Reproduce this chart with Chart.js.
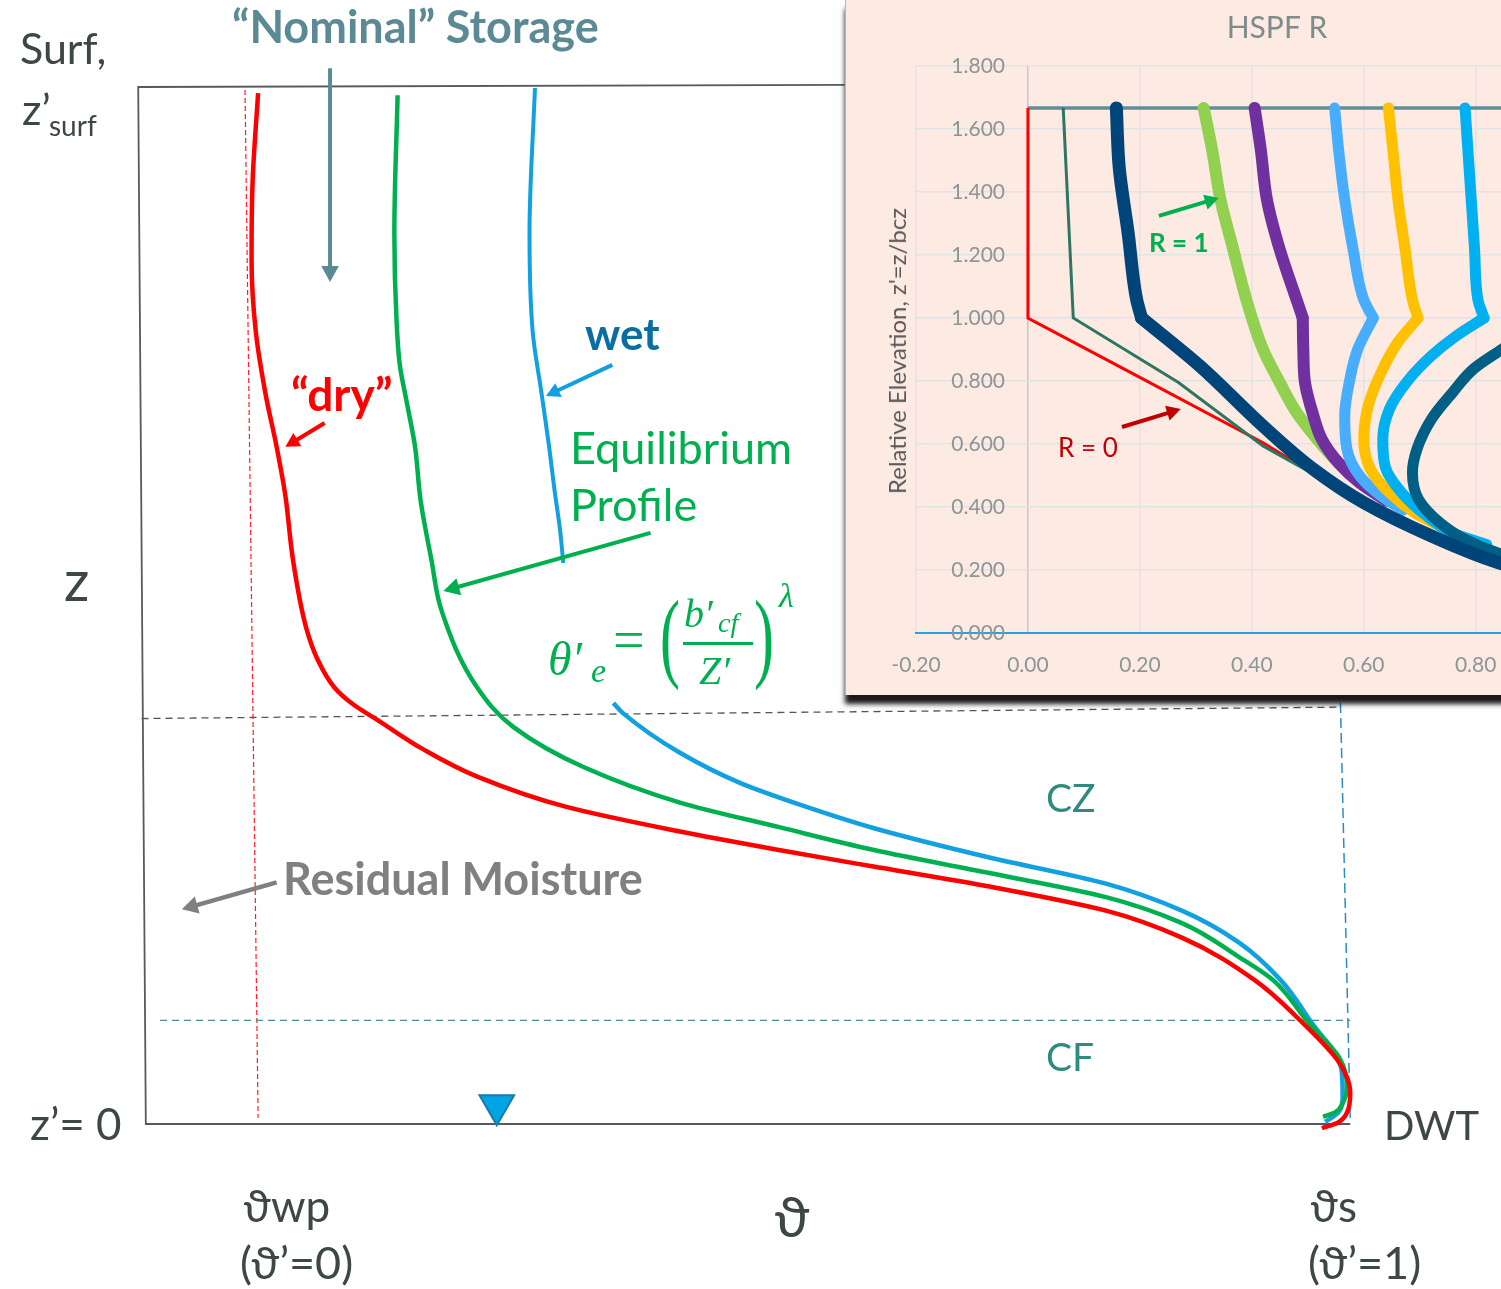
<!DOCTYPE html>
<html>
<head>
<meta charset="utf-8">
<script src="https://cdn.jsdelivr.net/npm/chart.js@4.4.1/dist/chart.umd.min.js"></script>
<style>
html, body { margin: 0; padding: 0; background: #fff; overflow: hidden; width: 1501px; height: 1289px; }
#main { position: absolute; left: 0; top: 0; }
#inset { position: absolute; left: 845px; top: 0; width: 814px; height: 695px; background: #fdeae2;
         box-shadow: 0 9px 5px rgba(0,0,0,0.9); border-left: 1px solid #b5b5b5; z-index: 2; }
#insetChart { position: absolute; left: 0; top: 0; }
.t { position: absolute; white-space: nowrap; line-height: 1; }
</style>
</head>
<body>
<canvas id="main" width="1501" height="1289"></canvas>
<div id="inset"><canvas id="insetChart" width="814" height="695"></canvas></div>
<script>
// ---- main diagram: theta' (0 = wilting point, 1 = saturation) vs relative elevation z' (0 = DWT, 1 = surface)
const dryProfile = [[0.001,0.994],[-0.004,0.910],[-0.005,0.833],[-0.001,0.763],[0.008,0.703],[0.018,0.653],
  [0.026,0.606],[0.033,0.544],[0.045,0.479],[0.056,0.447],[0.071,0.421],[0.089,0.404],[0.110,0.390],[0.153,0.361],
  [0.202,0.335],[0.283,0.306],[0.388,0.282],[0.480,0.264],[0.567,0.248],[0.672,0.229],[0.778,0.206],[0.848,0.180],
  [0.915,0.139],[0.957,0.100],[0.991,0.062],[1.000,0.045],[1.003,0.030],[1.000,0.011],[0.991,0.001],[0.977,-0.004]]
const equilibriumProfile = [[0.129,0.992],[0.126,0.859],[0.128,0.775],[0.131,0.732],[0.137,0.698],[0.145,0.653],
  [0.150,0.602],[0.160,0.544],[0.169,0.496],[0.202,0.421],[0.235,0.383],[0.300,0.344],[0.388,0.310],[0.480,0.286],
  [0.567,0.264],[0.672,0.242],[0.778,0.219],[0.848,0.194],[0.901,0.161],[0.932,0.139],[0.963,0.100],
  [0.994,0.062],[1.000,0.036],[0.996,0.020],[0.989,0.011],[0.978,0.007]]
const wetProfileUpper = [[0.255,0.999],[0.250,0.859],[0.253,0.763],[0.261,0.705],[0.268,0.653],[0.273,0.611],
  [0.278,0.573],[0.281,0.541]]
const wetProfileLower = [[0.327,0.406],[0.336,0.396],[0.388,0.358],[0.443,0.329],[0.498,0.308],[0.567,0.285],
  [0.672,0.257],[0.778,0.232],[0.848,0.206],[0.901,0.175],[0.939,0.139],[0.966,0.100],[0.995,0.052],
  [0.996,0.026],[0.992,0.011],[0.980,0.002]]
// frame and zone boundaries (theta', z')
const frameLine = [[0.539,1.002],[-0.109,1.000],[-0.102,0.000],[1.003,0.000]]
const czBoundary = [[-0.106,0.391],[0.994,0.402]]
const cfBoundary = [[-0.089,0.100],[1.003,0.100]]
const wiltingLine = [[-0.011,0.997],[0.001,0.006]]
const saturationLine = [[0.994,0.406],[1.003,0.004]]
const waterTableMark = [[0.220,0.018]]
// annotation arrows: [from, to]
const storageArrow = [[0.067,1.018],[0.067,0.812]]
const dryArrow = [[0.062,0.676],[0.026,0.653]]
const wetArrow = [[0.326,0.732],[0.265,0.702]]
const eqArrow = [[0.361,0.570],[0.171,0.514]]
const residualArrow = [[0.018,0.233],[-0.069,0.207]]

// ---- inset "HSPF R": theta' vs z'=z/bcz
const insetSurface = [[0,1.667],[1.2,1.667]]
const seriesR0 = [[0,1.667],[0,1.0],[0.194,0.817],[0.42,0.604],[0.517,0.498],[0.6,0.42],[0.72,0.31],[0.84,0.225],[1.0,0.15]]
const seriesTeal = [[0.063,1.667],[0.081,1.0],[0.269,0.795],[0.42,0.594],[0.517,0.498],[0.6,0.42]]
const seriesNavy = [[0.158,1.667],[0.163,1.48],[0.179,1.27],[0.194,1.06],[0.203,1.0],[0.307,0.848],[0.42,0.657],
  [0.51,0.52],[0.6,0.414],[0.721,0.308],[0.841,0.223],[0.95,0.17],[1.05,0.13]]
const seriesR1 = [[0.314,1.667],[0.329,1.535],[0.344,1.376],[0.367,1.217],[0.39,1.06],[0.42,0.90],[0.45,0.795],
  [0.48,0.70],[0.517,0.615],[0.555,0.54],[0.6,0.477],[0.65,0.42]]
const seriesPurple = [[0.405,1.667],[0.416,1.535],[0.427,1.376],[0.45,1.217],[0.48,1.058],[0.491,1.0],[0.492,0.9],
  [0.495,0.795],[0.51,0.69],[0.525,0.615],[0.555,0.54],[0.593,0.477],[0.64,0.42]]
const seriesLightBlue = [[0.548,1.667],[0.555,1.535],[0.566,1.376],[0.581,1.217],[0.6,1.058],[0.617,1.0],[0.589,0.9],
  [0.574,0.795],[0.566,0.69],[0.57,0.583],[0.593,0.498],[0.631,0.435],[0.67,0.39]]
const seriesGold = [[0.644,1.667],[0.652,1.535],[0.661,1.376],[0.674,1.217],[0.687,1.058],[0.697,1.0],[0.661,0.923],
  [0.631,0.827],[0.608,0.721],[0.6,0.615],[0.612,0.52],[0.646,0.445],[0.691,0.382],[0.736,0.339]]
const seriesCyan = [[0.781,1.667],[0.786,1.535],[0.792,1.376],[0.798,1.217],[0.804,1.058],[0.815,1.0],[0.766,0.944],
  [0.721,0.88],[0.676,0.795],[0.646,0.711],[0.634,0.615],[0.638,0.53],[0.668,0.445],[0.713,0.371],[0.758,0.318],[0.82,0.28]]
const seriesDeepTeal = [[0.90,1.667],[0.915,1.3],[0.93,1.0],[0.847,0.901],[0.796,0.838],[0.759,0.764],[0.721,0.679],
  [0.695,0.583],[0.687,0.509],[0.698,0.424],[0.736,0.35],[0.781,0.297],[0.847,0.249],[0.95,0.2],[1.05,0.16]]
const r1Arrow = [[0.234,1.324],[0.341,1.381]]
const r0Arrow = [[0.168,0.654],[0.273,0.711]]
const insetXTicks = { min: -0.2, max: 1.09, step: 0.2 }
const insetYTicks = { min: 0, max: 1.8, step: 0.2 }

const pts = arr => arr.map(p => ({ x: p[0], y: p[1] }))

const arrowPlugin = {
  id: 'arrows',
  afterDatasetsDraw(chart, args, opts) {
    const { ctx, scales: { x, y } } = chart
    ;(opts.items || []).forEach(a => {
      const x1 = x.getPixelForValue(a.path[0][0]), y1 = y.getPixelForValue(a.path[0][1])
      const x2 = x.getPixelForValue(a.path[1][0]), y2 = y.getPixelForValue(a.path[1][1])
      const ang = Math.atan2(y2 - y1, x2 - x1)
      const L = a.head, W = a.head * 0.55
      ctx.save()
      ctx.strokeStyle = a.color
      ctx.fillStyle = a.color
      ctx.lineWidth = a.width
      ctx.beginPath()
      ctx.moveTo(x1, y1)
      ctx.lineTo(x2 - Math.cos(ang) * L * 0.8, y2 - Math.sin(ang) * L * 0.8)
      ctx.stroke()
      ctx.beginPath()
      ctx.moveTo(x2, y2)
      ctx.lineTo(x2 - L * Math.cos(ang) + W * Math.sin(ang), y2 - L * Math.sin(ang) - W * Math.cos(ang))
      ctx.lineTo(x2 - L * Math.cos(ang) - W * Math.sin(ang), y2 - L * Math.sin(ang) + W * Math.cos(ang))
      ctx.closePath()
      ctx.fill()
      ctx.restore()
    })
  }
}

const line = (data, color, width, order, extra) => Object.assign({
  data: pts(data), showLine: true, borderColor: color, borderWidth: width, pointRadius: 0,
  tension: 0, order: order, fill: false
}, extra || {})

// profiles always fall in z', so interpolate monotonically along the vertical axis
const smoothZ = { cubicInterpolationMode: 'monotone', indexAxis: 'y' }

// main chart
new Chart(document.querySelector('#main'), {
  type: 'scatter',
  data: {
    datasets: [
      line(dryProfile, '#ff0000', 4.5, 0, smoothZ),
      line(equilibriumProfile, '#00b050', 4.5, 1, smoothZ),
      line(wetProfileUpper, '#12a0e0', 4, 2, smoothZ),
      line(wetProfileLower, '#12a0e0', 4.5, 2, smoothZ),
      line(frameLine, '#555b5a', 1.8, 5),
      line(czBoundary, '#555', 1.3, 6, { borderDash: [7, 5] }),
      line(cfBoundary, '#4e8890', 1.3, 6, { borderDash: [7, 5] }),
      line(wiltingLine, '#ff2020', 1.2, 6, { borderDash: [5, 3] }),
      line(saturationLine, '#2a8fc0', 1.5, 6, { borderDash: [10, 5] }),
      { data: pts(waterTableMark), pointStyle: 'triangle', rotation: 180, pointRadius: 20,
        backgroundColor: '#00a3e3', borderColor: '#1a7aa8', borderWidth: 2, order: 3 }
    ]
  },
  options: {
    responsive: false, animation: false,
    layout: { padding: 0, autoPadding: false },
    plugins: {
      legend: { display: false }, tooltip: { enabled: false },
      arrows: { items: [
        { path: storageArrow, color: '#5b8a94', width: 4, head: 16 },
        { path: dryArrow, color: '#ff0000', width: 4, head: 14 },
        { path: wetArrow, color: '#12a0e0', width: 4, head: 14 },
        { path: eqArrow, color: '#00b050', width: 4, head: 16 },
        { path: residualArrow, color: '#808080', width: 4.5, head: 16 }
      ] }
    },
    scales: {
      x: { type: 'linear', display: false, min: -0.2358, max: 1.1413 },
      y: { type: 'linear', display: false, min: -0.1591, max: 1.0839 }
    }
  },
  plugins: [arrowPlugin]
})

// inset chart: thick profiles are split at the kink (z'=1) so the corner stays sharp
const fat = { borderCapStyle: 'round', borderJoinStyle: 'round' }
const profile = (data, color, width, order) => {
  const k = data.findIndex(p => p[1] === 1.0)
  if (k < 0) return [line(data, color, width, order, Object.assign({}, smoothZ, fat))]
  return [
    line(data.slice(0, k + 1), color, width, order, Object.assign({}, smoothZ, fat)),
    line(data.slice(k), color, width, order, Object.assign({}, smoothZ, fat))
  ]
}
new Chart(document.querySelector('#insetChart'), {
  type: 'scatter',
  data: {
    datasets: [
      line(insetSurface, '#5e8f98', 3.5, 20),
      line(seriesR0, '#ff0000', 3, 12),
      line(seriesTeal, '#2e7563', 3, 11),
      ...profile(seriesR1, '#92d050', 12, 8),
      ...profile(seriesPurple, '#7030a0', 12, 7),
      ...profile(seriesLightBlue, '#47adfc', 11, 6),
      ...profile(seriesGold, '#ffc000', 11, 5),
      ...profile(seriesCyan, '#00b0f0', 11, 4),
      ...profile(seriesDeepTeal, '#005f85', 11, 3),
      ...profile(seriesNavy, '#00457a', 13, 1)
    ]
  },
  options: {
    responsive: false, animation: false,
    layout: { padding: { left: 70, right: 22, top: 0, bottom: 0 }, autoPadding: false },
    plugins: {
      legend: { display: false }, tooltip: { enabled: false },
      title: { display: true, text: 'HSPF R', color: '#7f8c8c', font: { family: 'Lato', size: 30, weight: 'normal' },
               padding: { top: 10, bottom: 20 } },
      arrows: { items: [
        { path: r1Arrow, color: '#00b050', width: 4, head: 14 },
        { path: r0Arrow, color: '#c00000', width: 4, head: 14 }
      ] }
    },
    scales: {
      x: { type: 'linear', min: insetXTicks.min, max: insetXTicks.max,
           ticks: { stepSize: insetXTicks.step, autoSkip: false, maxRotation: 0, padding: 20, color: '#8c9696',
                    font: { family: 'Lato', size: 21 },
                    callback: v => v > 1.01 ? '' : (Math.abs(v) < 1e-9 ? 0 : v).toFixed(2) },
           grid: { drawTicks: false, lineWidth: 1.5, color: c => c.tick && Math.abs(c.tick.value) < 1e-9 ? '#c3cacc' : '#dfe4e6' },
           border: { color: '#27a2dc', width: 2 },
           afterFit: s => { s.height = 62 } },
      y: { type: 'linear', position: { x: -0.041 }, min: insetYTicks.min, max: insetYTicks.max,
           ticks: { stepSize: insetYTicks.step, color: '#8c9696', font: { family: 'Lato', size: 21 },
                    callback: v => v.toFixed(3) },
           grid: { drawTicks: false, lineWidth: 1.5, color: '#dfe4e6' },
           border: { display: false } }
    }
  },
  plugins: [arrowPlugin]
})

// ---- text labels (left, baseline, size)
const LATO = 'Lato, "Open Sans", "DejaVu Sans", sans-serif'
const SERIF = '"Liberation Serif", "DejaVu Serif", serif'
const baseK = { lato: 0.887, serif: 0.8375 }
const put = (parent, text, left, base, size, o) => {
  o = o || {}
  const d = document.createElement('div')
  d.className = 't'
  d.textContent = text
  const fam = o.serif ? 'serif' : 'lato'
  d.style.fontFamily = o.serif ? SERIF : LATO
  d.style.fontSize = size + 'px'
  d.style.left = left + 'px'
  d.style.top = (base - baseK[fam] * size) + 'px'
  d.style.color = o.color || '#3d4846'
  d.style.fontWeight = o.bold ? 'bold' : 'normal'
  if (o.italic) d.style.fontStyle = 'italic'
  if (o.transform) { d.style.transform = o.transform; d.style.transformOrigin = 'left center' }
  d.style.zIndex = o.z || 1
  parent.appendChild(d)
  return d
}
const B = document.body
put(B, '“Nominal” Storage', 232, 44, 45, { bold: true, color: '#5b8a94' })
put(B, 'Surf,', 20, 64, 43)
put(B, 'z’', 22, 125, 43)
put(B, 'surf', 49, 136, 28)
put(B, 'z', 64, 602, 56)
put(B, 'z’= 0', 30, 1140, 44)
put(B, 'DWT', 1384, 1140, 40)
put(B, 'ϑwp', 243, 1222, 44)
put(B, '(ϑ’=0)', 240, 1280, 45)
put(B, 'ϑ', 774, 1238, 56)
put(B, 'ϑs', 1310, 1222, 44)
put(B, '(ϑ’=1)', 1308, 1280, 45)
put(B, 'wet', 585, 350, 44, { bold: true, color: '#0a6fa0' })
put(B, '“dry”', 291, 412, 46, { bold: true, color: '#ff0000' })
put(B, 'Equilibrium', 570, 465, 45, { color: '#00b050' })
put(B, 'Profile', 570, 522, 45, { color: '#00b050' })
put(B, 'CZ', 1046, 813, 39, { color: '#2e8b80' })
put(B, 'CF', 1046, 1072, 39, { color: '#2e8b80' })
put(B, 'Residual Moisture', 283, 896, 45, { bold: true, color: '#808080' })
// equation
const G = { color: '#00b050', serif: true }
put(B, 'θ′', 548, 675, 48, Object.assign({ italic: true }, G))
put(B, 'e', 591, 682, 34, Object.assign({ italic: true }, G))
put(B, '=', 613, 659, 56, G)
put(B, '(', 660, 670, 100, Object.assign({ transform: 'scaleX(0.6)' }, G))
put(B, 'b′', 684, 627, 40, Object.assign({ italic: true }, G))
put(B, 'cf', 718, 632, 28, Object.assign({ italic: true }, G))
put(B, 'Z′', 699, 684, 40, Object.assign({ italic: true }, G))
put(B, ')', 754, 670, 100, Object.assign({ transform: 'scaleX(0.6)' }, G))
put(B, 'λ', 779, 607, 34, Object.assign({ italic: true }, G))
const bar = document.createElement('div')
bar.style.cssText = 'position:absolute;left:683px;top:642px;width:70px;height:3px;background:#00b050;'
B.appendChild(bar)
// inset labels
const I = document.querySelector('#inset')
put(I, 'R = 1', 303, 252, 26, { bold: true, color: '#00b050', z: 3 })
put(I, 'R = 0', 212, 457, 26, { color: '#c00000', z: 3 })
const yt = document.createElement('div')
yt.className = 't'
yt.textContent = "Relative Elevation, z'=z/bcz"
yt.style.cssText += 'left:51px;top:351px;font-family:Lato,sans-serif;font-size:24px;color:#595959;transform:translate(-50%,-50%) rotate(-90deg);z-index:3;'
I.appendChild(yt)
</script>
</body>
</html>
